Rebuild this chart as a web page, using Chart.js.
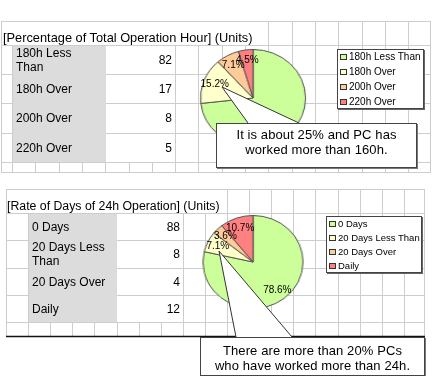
<!DOCTYPE html>
<html><head><meta charset="utf-8">
<script src="https://cdn.jsdelivr.net/npm/chart.js@4"></script>
<style>
body{margin:0;width:433px;height:376px;overflow:hidden;background:#fff;position:relative;font-family:"Liberation Sans",Arial,sans-serif;color:#000;}
.abs{position:absolute;}
.title{position:absolute;line-height:14px;white-space:nowrap;z-index:1;}
.cell{position:absolute;display:flex;align-items:center;font-size:12px;line-height:14px;white-space:pre;z-index:1;}
.legend{position:absolute;background:#fff;border:1px solid #444;box-shadow:1px 1px 0 #666;z-index:3;}
.li{position:absolute;height:12px;line-height:12px;white-space:nowrap;}
.mk{position:absolute;width:5px;height:4px;border:1px solid #333;}
.note{position:absolute;background:#fff;border:1px solid #444;box-shadow:1px 1px 0 #777;z-index:5;font-size:13px;line-height:14.5px;text-align:center;white-space:nowrap;box-sizing:border-box;}
.note span{display:inline-block;}
</style></head><body>
<canvas id="bg" class="abs" width="433" height="376" style="left:0;top:0;z-index:0"></canvas>
<canvas id="ov" class="abs" width="433" height="376" style="left:0;top:0;z-index:4;pointer-events:none"></canvas>
<script>
// ---------- data ----------
const hourTitle = '[Percentage of Total Operation Hour] (Units)';
const hourCategories = ['180h Less Than', '180h Over', '200h Over', '220h Over'];
const hourRowLabels = ['180h Less\nThan', '180h Over', '200h Over', '220h Over'];
const hourUnits = [82, 17, 8, 5];
const hourNote = ['It is about 25% and PC has', 'worked more than 160h.'];

const dayTitle = '[Rate of Days of 24h Operation] (Units)';
const dayCategories = ['0 Days', '20 Days Less Than', '20 Days Over', 'Daily'];
const dayRowLabels = ['0 Days', '20 Days Less\nThan', '20 Days Over', 'Daily'];
const dayUnits = [88, 8, 4, 12];
const dayNote = ['There are more than 20% PCs', 'who have worked more than 24h.'];

const sliceColors = ['#CCFF99', '#FFFFCC', '#FFCC99', '#FF8080'];

// ---------- layout ----------
const panels = [
  { title: hourTitle, cats: hourCategories, rows: hourRowLabels, vals: hourUnits, note: hourNote,
    left: 1, right: 430, top: 21, rowsY: [45, 74, 103, 133, 162], bottom: 172,
    colX0: 12, colStep: 23.3, titleEndX: 266, grayX: [12, 106], valX: [106, 176],
    labelX: 16, valRight: 172, titleX: 3, titleFont: 12.8, blackBottom: false,
    pie: { cx: 253, cy: 98, ry: 48, sx: 1.083 },
    legend: { x: 337, y: 49, w: 87, h: 60, gap: 15, font: 10 },
    box: { x: 216, y: 123, w: 201, h: 45, pad: 4, ls: 0.1 },
    wedge: [[222, 87], [248, 123], [299, 123]] },
  { title: dayTitle, cats: dayCategories, rows: dayRowLabels, vals: dayUnits, note: dayNote,
    left: 6, right: 424, top: 189, rowsY: [213, 240, 268, 295, 322], bottom: 336,
    colX0: 6, colStep: 22.1, titleEndX: 225, grayX: [28, 117], valX: [117, 183],
    labelX: 32, valRight: 180, titleX: 7, titleFont: 12.3, blackBottom: true,
    pie: { cx: 253, cy: 262, ry: 46, sx: 1.076 },
    legend: { x: 326, y: 216, w: 96, h: 57, gap: 14, font: 9.5 },
    box: { x: 200, y: 337, w: 225, h: 39, pad: 6, ls: 0.1 },
    wedge: [[219, 251], [236, 337], [292, 337]] }
];

const bg = document.getElementById('bg').getContext('2d');
const ov = document.getElementById('ov').getContext('2d');
const px = v => Math.round(v) + 0.5;
function hline(y, x1, x2, c, w) { bg.strokeStyle = c; bg.lineWidth = w || 1; bg.beginPath(); bg.moveTo(Math.round(x1), px(y)); bg.lineTo(Math.round(x2) + 1, px(y)); bg.stroke(); }
function vline(x, y1, y2, c) { bg.strokeStyle = c; bg.lineWidth = 1; bg.beginPath(); bg.moveTo(px(x), Math.round(y1)); bg.lineTo(px(x), Math.round(y2) + 1); bg.stroke(); }
const GRID = '#cdcdcd';
panels.forEach(p => {
  const lastRow = p.rowsY[p.rowsY.length - 1];
  [p.top, ...p.rowsY, p.bottom].forEach(y => hline(y, p.left, p.right, GRID));
  vline(p.left, p.top, p.bottom, GRID);
  vline(p.right, p.top, p.bottom, GRID);
  for (let x = p.colX0; x < p.right - 6; x += p.colStep) {
    if (x > p.grayX[0] + 2 && x < p.valX[1] - 2) vline(x, lastRow, p.bottom, GRID);
    else if (x < p.titleEndX) vline(x, p.rowsY[0], p.bottom, GRID);
    else vline(x, p.top, p.bottom, GRID);
  }
  bg.fillStyle = '#dcdcdc';
  bg.fillRect(p.grayX[0] + 1, p.rowsY[0] + 1, p.grayX[1] - p.grayX[0] - 1, lastRow - p.rowsY[0] - 1);
  if (p.blackBottom) hline(p.bottom, p.left, p.right, '#111', 1.5);

  const t = document.createElement('div');
  t.className = 'title'; t.textContent = p.title; t.style.fontSize = p.titleFont + 'px';
  t.style.left = p.titleX + 'px'; t.style.top = (p.rowsY[0] - 14) + 'px';
  document.body.appendChild(t);

  p.rows.forEach((lab, i) => {
    const y1 = p.rowsY[i], y2 = p.rowsY[i + 1];
    const l = document.createElement('div');
    l.className = 'cell'; l.textContent = lab;
    Object.assign(l.style, { left: p.labelX + 'px', top: y1 + 'px', height: (y2 - y1) + 'px' });
    document.body.appendChild(l);
    const v = document.createElement('div');
    v.className = 'cell'; v.textContent = String(p.vals[i]);
    Object.assign(v.style, { left: p.valX[0] + 'px', width: (p.valRight - p.valX[0]) + 'px', top: y1 + 'px', height: (y2 - y1) + 'px', justifyContent: 'flex-end' });
    document.body.appendChild(v);
  });

  const L = p.legend;
  const lg = document.createElement('div');
  lg.className = 'legend'; lg.style.fontSize = L.font + 'px';
  Object.assign(lg.style, { left: L.x + 'px', top: L.y + 'px', width: (L.w - 2) + 'px', height: (L.h - 2) + 'px' });
  p.cats.forEach((c, i) => {
    const it = document.createElement('div');
    it.className = 'li';
    it.style.top = (7 + i * L.gap - 6) + 'px'; it.style.left = '0px';
    const mk = document.createElement('span');
    mk.className = 'mk'; mk.style.background = sliceColors[i]; mk.style.left = '2px'; mk.style.top = '3px';
    const tx = document.createElement('span');
    tx.style.position = 'absolute'; tx.style.left = '11px'; tx.textContent = c;
    it.appendChild(mk); it.appendChild(tx); lg.appendChild(it);
  });
  document.body.appendChild(lg);

  const B = p.box;
  const nb = document.createElement('div');
  nb.className = 'note';
  Object.assign(nb.style, { left: B.x + 'px', top: B.y + 'px', width: B.w + 'px', height: B.h + 'px', paddingTop: B.pad + 'px', letterSpacing: B.ls + 'px' });
  nb.innerHTML = p.note.map(s => '<div><span>' + s + '</span></div>').join('');
  document.body.appendChild(nb);

  const P = p.pie;
  const size = 2 * P.ry + 2;
  const cv = document.createElement('canvas');
  cv.width = size; cv.height = size;
  Object.assign(cv.style, { position: 'absolute', left: (P.cx - size / 2) + 'px', top: (P.cy - size / 2) + 'px',
    width: size + 'px', height: size + 'px', transform: 'scaleX(' + P.sx + ')', transformOrigin: '50% 50%', zIndex: 2 });
  document.body.appendChild(cv);
  p.chart = new Chart(cv, {
    type: 'pie',
    data: { labels: p.cats, datasets: [{ data: p.vals, backgroundColor: sliceColors, borderColor: '#555', borderWidth: 1,
      hoverOffset: 0, hoverBorderWidth: 1, offset: 0 }] },
    options: { responsive: false, animation: false, events: [], layout: { padding: 0 },
      plugins: { legend: { display: false }, tooltip: { enabled: false } } }
  });
  p.size = size;
});

// callout wedges and slice percentage labels (positions from the chart's arcs)
panels.forEach(p => {
  const [a, b, c] = p.wedge;
  ov.fillStyle = '#fff';
  ov.beginPath(); ov.moveTo(a[0], a[1]); ov.lineTo(b[0], b[1]); ov.lineTo(c[0], c[1]); ov.closePath(); ov.fill();
  ov.strokeStyle = '#333'; ov.lineWidth = 1;
  ov.beginPath(); ov.moveTo(b[0], b[1]); ov.lineTo(a[0], a[1]); ov.lineTo(c[0], c[1]); ov.stroke();

  const meta = p.chart.getDatasetMeta(0);
  const total = p.vals.reduce((s, v) => s + v, 0);
  const B = p.box;
  ov.fillStyle = '#000'; ov.font = '10px "Liberation Sans", Arial, sans-serif';
  ov.textAlign = 'center'; ov.textBaseline = 'middle';
  meta.data.forEach((arc, i) => {
    const mid = (arc.startAngle + arc.endAngle) / 2;
    const r = arc.outerRadius * 0.78;
    const x = arc.x + Math.cos(mid) * r, y = arc.y + Math.sin(mid) * r;
    const gx = p.pie.cx + (x - p.size / 2) * p.pie.sx;
    const gy = p.pie.cy - p.size / 2 + y;
    if (gy > B.y - 7 && gx > B.x && gx < B.x + B.w) return; // hidden under the callout box
    ov.fillText((p.vals[i] / total * 100).toFixed(1) + '%', gx, gy);
  });
});
</script>
</body></html>
